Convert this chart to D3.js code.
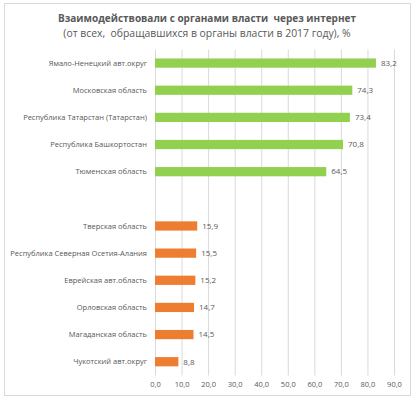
<!DOCTYPE html>
<html><head><meta charset="utf-8">
<script src="https://cdn.jsdelivr.net/npm/d3@7"></script>
<style>body{margin:0;background:#fff;} svg{display:block;} text{white-space:pre;}</style>
</head><body>
<svg id="c" width="416" height="400"></svg>
<script>
const categories = ["Ямало-Ненецкий авт.округ","Московская область","Республика Татарстан (Татарстан)","Республика Башкортостан","Тюменская область","","Тверская область","Республика Северная Осетия-Алания","Еврейская авт.область","Орловская область","Магаданская область","Чукотский авт.округ"];
const values = [83.2,74.3,73.4,70.8,64.5,null,15.9,15.5,15.2,14.7,14.5,8.8];
const groups = ["top","top","top","top","top","","bottom","bottom","bottom","bottom","bottom","bottom"];
const tickValues = [0,10,20,30,40,50,60,70,80,90];
const titleLines = ["Взаимодействовали с органами власти  через интернет","(от всех,  обращавшихся в органы власти в 2017 году), %"];
const colors = {top:"#92D050", bottom:"#ED7D31"};

const svg = d3.select("#c");
const font = "'Open Sans','Liberation Sans',Arial,sans-serif";
svg.append("rect").attr("x",4.5).attr("y",3.5).attr("width",406).attr("height",392)
  .attr("fill","#fff").attr("stroke","#d9d9d9");

const x = d3.scaleLinear().domain([0,90]).range([155,394]);
const y = d3.scaleBand().domain(d3.range(categories.length)).range([49.5,375.3]).paddingInner(0.66).paddingOuter(0.33);

// gridlines
svg.append("g").selectAll("line").data(tickValues).join("line")
  .attr("x1",d=>x(d)+0.5).attr("x2",d=>x(d)+0.5).attr("y1",49.5).attr("y2",375.5)
  .attr("stroke","#d9d9d9").attr("stroke-width",1);

// axis
const ax = svg.append("g").attr("transform","translate(0,375.5)")
  .call(d3.axisBottom(x).tickValues(tickValues).tickSize(0).tickPadding(6).tickFormat(d=>d3.format(".1f")(d).replace(".",",")));
ax.select(".domain").remove();
ax.selectAll("text").attr("fill","#595959").attr("font-size","7.5px").attr("font-family",font);

// bars
const idx = d3.range(categories.length).filter(i=>values[i]!=null);
svg.append("g").selectAll("rect").data(idx).join("rect")
  .attr("x",x(0)).attr("y",i=>y(i)).attr("width",i=>x(values[i])-x(0)).attr("height",y.bandwidth())
  .attr("fill",i=>colors[groups[i]]);

// value labels
svg.append("g").selectAll("text").data(idx).join("text")
  .attr("x",i=>x(values[i])+5).attr("y",i=>y(i)+y.bandwidth()/2).attr("dy","0.35em")
  .attr("fill","#595959").attr("font-size","8px").attr("font-family",font)
  .text(i=>d3.format(".1f")(values[i]).replace(".",","));

// category labels
svg.append("g").selectAll("text").data(idx).join("text")
  .attr("x",147).attr("y",i=>y(i)+y.bandwidth()/2).attr("dy","0.35em").attr("text-anchor","end")
  .attr("fill","#595959").attr("font-size","7.5px").attr("font-family",font)
  .text(i=>categories[i]);

// titles
svg.append("text").attr("x",207).attr("y",21.5).attr("text-anchor","middle")
  .attr("fill","#595959").attr("font-size","10px").attr("font-weight","bold").attr("font-family",font)
  .text(titleLines[0]);
svg.append("text").attr("x",207).attr("y",37).attr("text-anchor","middle")
  .attr("fill","#595959").attr("font-size","10.4px").attr("font-family",font)
  .text(titleLines[1]);
</script>
</body></html>
